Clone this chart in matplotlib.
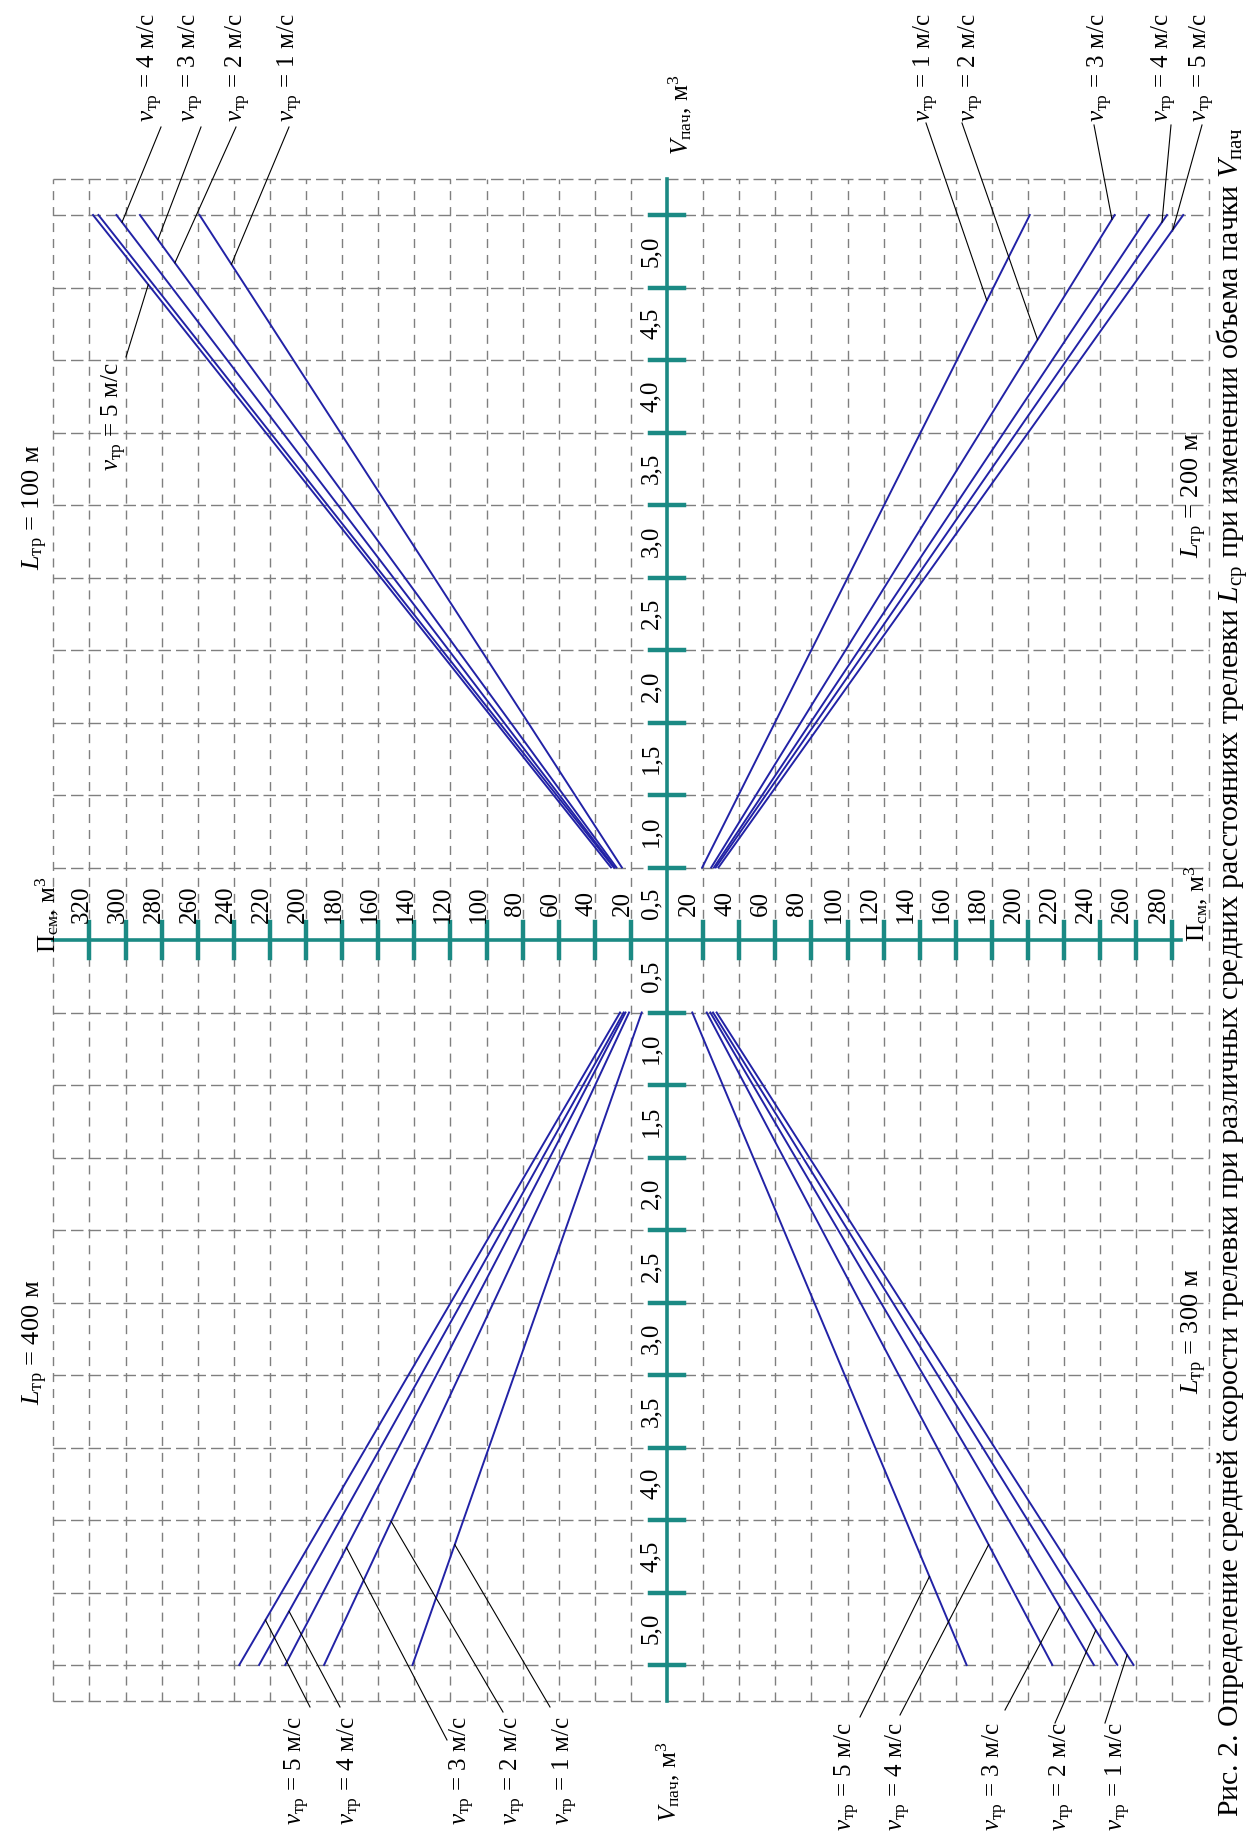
import matplotlib
matplotlib.use('Agg')
import matplotlib.pyplot as plt

plt.rcParams['font.family'] = ['Liberation Serif', 'DejaVu Serif']
plt.rcParams['mathtext.fontset'] = 'custom'
plt.rcParams['mathtext.rm'] = 'Liberation Serif'
plt.rcParams['mathtext.it'] = 'Liberation Serif:italic'
plt.rcParams['lines.scale_dashes'] = False

# Пачка: объём V (м3) в начале и в конце каждой прямой
V_START = 0.5
V_END = 5.0
SPEEDS = [1, 2, 3, 4, 5]

# Псм (м3) при V = 0,5 и V = 5,0 для v_тр = 1..5 м/с
P_L100_START = [25, 28, 29, 29.5, 31]
P_L100_END = [259, 292, 305, 315, 318]
P_L200_START = [19.5, 24.5, 26, 27, 28.5]
P_L200_END = [201, 248, 267, 277, 286]
P_L300_START = [27.5, 25.5, 24, 22, 14]
P_L300_END = [258.5, 249.5, 236.5, 213.5, 166]
P_L400_START = [14, 21, 23, 24, 26]
P_L400_END = [141, 190, 211.5, 226, 237]

P_TICKS_LEFT = list(range(20, 321, 20))
P_TICKS_RIGHT = list(range(20, 281, 20))
V_TICKS = [0.5, 1.0, 1.5, 2.0, 2.5, 3.0, 3.5, 4.0, 4.5, 5.0]
V_TICK_LABELS = ['0,5', '1,0', '1,5', '2,0', '2,5', '3,0', '3,5', '4,0', '4,5', '5,0']

W, H = 1251, 1839
CX, CY = 667, 940      # центр номограммы, px
SX, SY = 1.805, 145.0  # px на единицу Псм и V

TEAL = '#1b8a84'
BLUE = '#2222a6'
GRID = '#7f7f7f'


def to_data(x, y):
    return (x - CX) / SX, (CY - y) / SY


def p_at(start, end, v):
    return start + (end - start) * (v - V_START) / (V_END - V_START)


def speed_label(v):
    return r'$v_{\mathrm{тр}}$ = %d м/с' % v


def draw_grid(ax):
    x_lo, x_hi, v_edge = -340, 300, 5.25
    for x in range(x_lo, x_hi + 1, 20):
        if x == 0:
            continue
        ax.plot([x, x], [-v_edge, v_edge], color=GRID, lw=1.0,
                dashes=(6.5, 5), zorder=1)
    levels = [k * 0.5 for k in range(1, 11)] + [v_edge]
    for v in levels:
        for s in (1, -1):
            ax.plot([x_lo, x_hi], [s * v, s * v], color=GRID, lw=1.0,
                    dashes=(9, 3.6), zorder=1)


def draw_axes(ax):
    ax.plot([-340, 285], [0, 0], color=TEAL, lw=2.6, zorder=3)
    ax.plot([0, 0], [-5.25, 5.25], color=TEAL, lw=2.6, zorder=3)
    dv = 18 / SY
    dp = 17 / SX
    for p in P_TICKS_LEFT:
        ax.plot([-p, -p], [-dv, dv], color=TEAL, lw=3.2, zorder=3)
        ax.text(-p - 8 / SX, 36 / SY, str(p), rotation=90, fontsize=18,
                ha='center', va='center')
    for p in P_TICKS_RIGHT:
        ax.plot([p, p], [-dv, dv], color=TEAL, lw=3.2, zorder=3)
        ax.text(p - 14 / SX, 36 / SY, str(p), rotation=90, fontsize=18,
                ha='center', va='center')
    for v, lab in zip(V_TICKS, V_TICK_LABELS):
        for s in (1, -1):
            ax.plot([-dp, dp], [s * v, s * v], color=TEAL, lw=3.2, zorder=3)
            ax.text(-16 / SX, s * (v - 0.25), lab, rotation=90, fontsize=18,
                    ha='center', va='center')


def draw_quadrant(ax, sx, sy, starts, ends, leaders):
    for st, en in zip(starts, ends):
        ax.plot([sx * st, sx * en], [sy * V_START, sy * V_END],
                color=BLUE, lw=1.4, zorder=4)
    for v_lab, v_line, v_tip, start_px, text_px, va in leaders:
        i = SPEEDS.index(v_line)
        tip = (sx * p_at(starts[i], ends[i], v_tip), sy * v_tip)
        x0, y0 = to_data(*start_px)
        ax.plot([x0, tip[0]], [y0, tip[1]], color='black', lw=0.8, zorder=5)
        tx, ty = to_data(*text_px)
        ax.text(tx, ty, speed_label(v_lab), rotation=90, fontsize=18,
                ha='center', va=va)


def main():
    fig = plt.figure(figsize=(W / 100, H / 100), dpi=100)
    ax = fig.add_axes([0, 0, 1, 1])
    x0, y1 = to_data(0, 0)
    x1, y0 = to_data(W, H)
    ax.set_xlim(x0, x1)
    ax.set_ylim(y0, y1)
    ax.axis('off')

    draw_grid(ax)
    draw_axes(ax)

    # L = 100 м
    draw_quadrant(ax, -1, 1, P_L100_START, P_L100_END, [
        (4, 3, 4.95, (161, 127), (150, 122), 'bottom'),
        (3, 2, 4.83, (201, 127), (191, 122), 'bottom'),
        (2, 2, 4.67, (236, 127), (238, 122), 'bottom'),
        (1, 1, 4.66, (289, 127), (290, 122), 'bottom'),
        (5, 5, 4.52, (126, 357), (114, 362), 'top'),
    ])
    # L = 200 м
    draw_quadrant(ax, 1, 1, P_L200_START, P_L200_END, [
        (1, 1, 4.41, (926, 123), (926, 122), 'bottom'),
        (2, 2, 4.14, (962, 123), (971, 122), 'bottom'),
        (3, 2, 4.97, (1094, 125), (1100, 122), 'bottom'),
        (4, 4, 4.95, (1171, 125), (1164, 122), 'bottom'),
        (5, 5, 4.90, (1202, 125), (1202, 122), 'bottom'),
    ])
    # L = 300 м
    draw_quadrant(ax, 1, -1, P_L300_START, P_L300_END, [
        (5, 5, 4.39, (860, 1717), (847, 1722), 'top'),
        (4, 4, 4.17, (900, 1715), (898, 1722), 'top'),
        (3, 3, 4.60, (1005, 1710), (995, 1722), 'top'),
        (2, 2, 4.76, (1055, 1723), (1062, 1722), 'top'),
        (1, 1, 4.93, (1105, 1723), (1118, 1722), 'top'),
    ])
    # L = 400 м
    draw_quadrant(ax, -1, -1, P_L400_START, P_L400_END, [
        (5, 5, 4.69, (310, 1707), (297, 1716), 'top'),
        (4, 4, 4.63, (340, 1707), (350, 1716), 'top'),
        (3, 3, 4.19, (447, 1740), (462, 1716), 'top'),
        (2, 2, 4.01, (503, 1712), (513, 1716), 'top'),
        (1, 1, 4.17, (550, 1707), (565, 1716), 'top'),
    ])

    texts = [
        ((35, 507), r'$L_{\mathrm{тр}}$ = 100 м', 19),
        ((35, 1342), r'$L_{\mathrm{тр}}$ = 400 м', 19),
        ((1194, 495), r'$L_{\mathrm{тр}}$ = 200 м', 19),
        ((1194, 1331), r'$L_{\mathrm{тр}}$ = 300 м', 19),
        ((47, 915), r'П$_{\mathrm{см}}$, м$^3$', 18),
        ((1196, 904), r'П$_{\mathrm{см}}$, м$^3$', 18),
        ((680, 115), r'$V_{\mathrm{пач}}$, м$^3$', 18),
        ((668, 1782), r'$V_{\mathrm{пач}}$, м$^3$', 18),
    ]
    for pos, s, fs in texts:
        x, y = to_data(*pos)
        ax.text(x, y, s, rotation=90, fontsize=fs, ha='center', va='center')

    x, y = to_data(1233, 972)
    ax.text(x, y, 'Рис. 2. Определение средней скорости трелевки при различных '
            r'средних расстояниях трелевки $L_{\mathrm{ср}}$ при изменении '
            r'объема пачки $V_{\mathrm{пач}}$',
            rotation=90, fontsize=21.5, ha='center', va='center')

    fig.savefig('out.png', dpi=100, facecolor='white')


if __name__ == '__main__':
    main()
